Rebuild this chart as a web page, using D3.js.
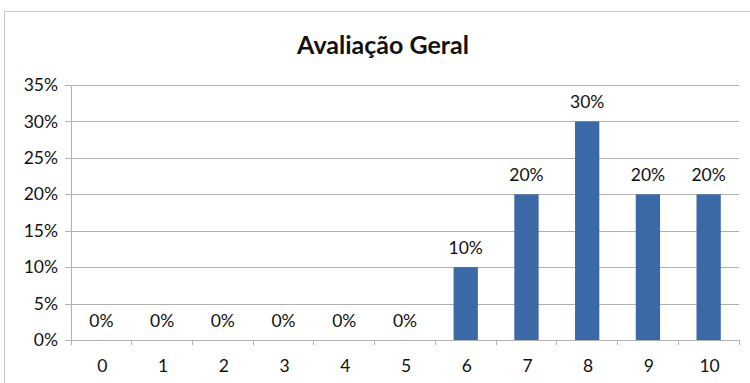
<!DOCTYPE html>
<html>
<head>
<meta charset="utf-8">
<script src="https://cdn.jsdelivr.net/npm/d3@7"></script>
<style>
  html, body { margin: 0; padding: 0; background: #fff; }
  svg { display: block; }
  text { font-family: Lato, "Open Sans", sans-serif; fill: #111; }
</style>
</head>
<body>
<svg id="chart" width="750" height="383"></svg>
<script>
// Rating scale 0..10 and share of answers for each score
const categories = ["0", "1", "2", "3", "4", "5", "6", "7", "8", "9", "10"];
const values = [0, 0, 0, 0, 0, 0, 0.10, 0.20, 0.30, 0.20, 0.20];
const yTicks = [0, 0.05, 0.10, 0.15, 0.20, 0.25, 0.30, 0.35];
const title = "Avaliação Geral";

const svg = d3.select("#chart");
const W = 750, H = 383;
const margin = { left: 71, right: 11, top: 85, bottom: 43 };
const labelSize = "17.5px";

// Outer chart frame
svg.append("rect")
  .attr("x", 4.5).attr("y", 11.5)
  .attr("width", 800).attr("height", 400)
  .attr("fill", "#fff")
  .attr("stroke", "#c8c8c8").attr("stroke-width", 1);

const x = d3.scaleBand()
  .domain(categories)
  .range([margin.left, W - margin.right])
  .paddingInner(0).paddingOuter(0);

const y = d3.scaleLinear()
  .domain([0, 0.35])
  .range([H - margin.bottom, margin.top]);

const pct = d3.format(".0%");

// Horizontal gridlines with short ticks left of the axis
const yAxis = d3.axisLeft(y)
  .tickValues(yTicks)
  .tickFormat(pct)
  .tickSize(-(W - margin.right - margin.left))
  .tickPadding(13);

const gy = svg.append("g")
  .attr("transform", `translate(${margin.left},0)`)
  .call(yAxis);
gy.select(".domain").remove();
gy.selectAll(".tick line")
  .attr("x1", -6)
  .attr("stroke", "#b0b0b0").attr("stroke-width", 1)
  .attr("shape-rendering", "crispEdges");
gy.selectAll(".tick text")
  .style("font-size", labelSize).attr("fill", "#111");

// Vertical axis line
svg.append("line")
  .attr("x1", margin.left).attr("x2", margin.left)
  .attr("y1", y(0.35)).attr("y2", y(0))
  .attr("stroke", "#b0b0b0").attr("shape-rendering", "crispEdges");

// Category axis with ticks at band boundaries
const gx = svg.append("g")
  .attr("transform", `translate(0,${y(0)})`);
gx.append("line")
  .attr("x1", margin.left).attr("x2", W - margin.right)
  .attr("stroke", "#b0b0b0").attr("shape-rendering", "crispEdges");
const bounds = categories.map(c => x(c)).concat([x(categories[categories.length - 1]) + x.bandwidth()]);
gx.selectAll("line.bt").data(bounds).join("line")
  .attr("class", "bt")
  .attr("x1", d => d).attr("x2", d => d)
  .attr("y1", 0).attr("y2", 5)
  .attr("stroke", "#b0b0b0").attr("shape-rendering", "crispEdges");
gx.selectAll("text").data(categories).join("text")
  .attr("x", d => x(d) + x.bandwidth() / 2 + 1)
  .attr("y", 32)
  .attr("text-anchor", "middle")
  .style("font-size", labelSize)
  .text(d => d);

// Bars
const barW = x.bandwidth() * 0.4;
svg.append("g").selectAll("rect").data(values).join("rect")
  .attr("x", (d, i) => x(categories[i]) + (x.bandwidth() - barW) / 2)
  .attr("y", d => y(d))
  .attr("width", barW)
  .attr("height", d => y(0) - y(d))
  .attr("fill", "#3b69a8");

// Value labels above each bar
svg.append("g").selectAll("text").data(values).join("text")
  .attr("x", (d, i) => x(categories[i]) + x.bandwidth() / 2)
  .attr("y", d => y(d) - 13)
  .attr("text-anchor", "middle")
  .style("font-size", labelSize)
  .text(d => pct(d));

// Title
svg.append("text")
  .attr("x", 383).attr("y", 54)
  .attr("text-anchor", "middle")
  .style("font-size", "25px").style("font-weight", "bold")
  .text(title);
</script>
</body>
</html>
